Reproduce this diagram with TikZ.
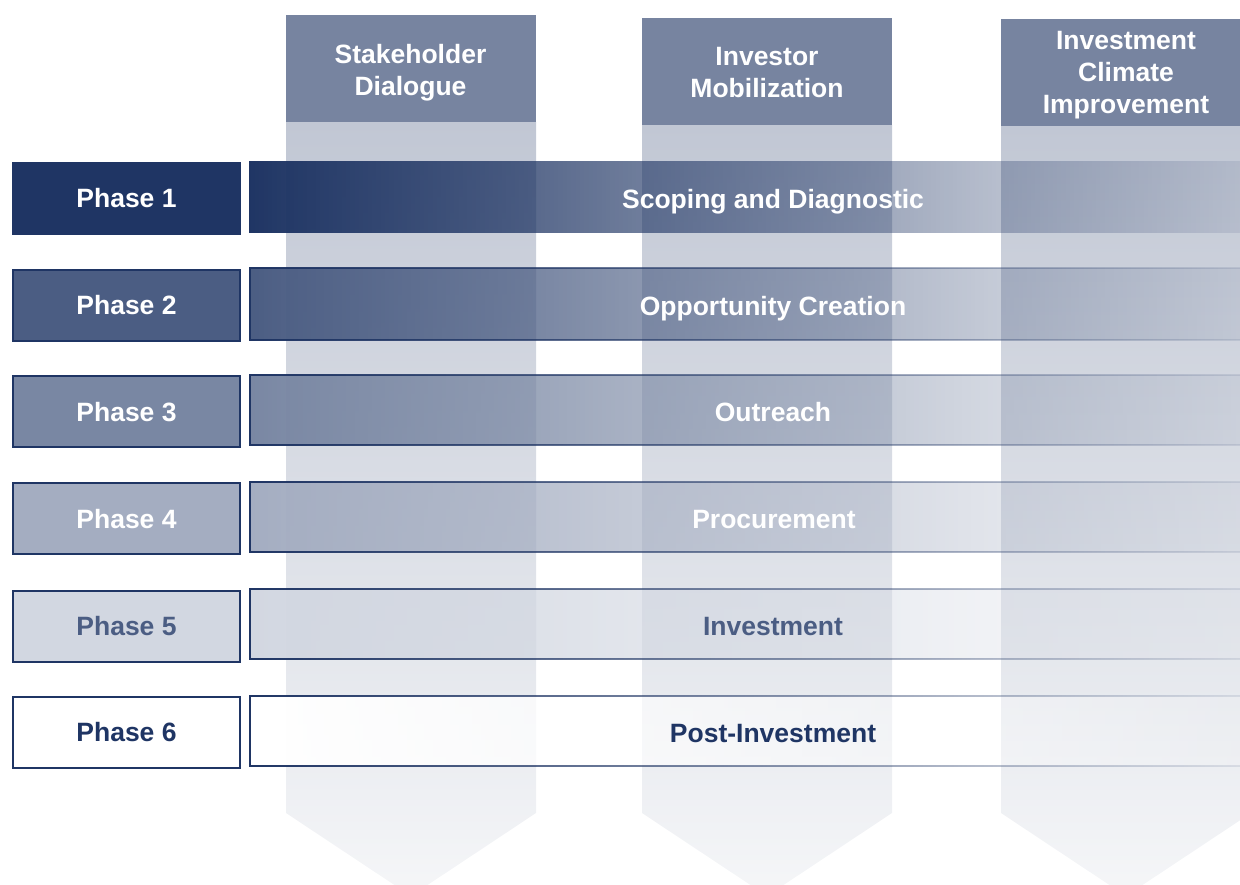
\documentclass[tikz,border=0pt]{standalone}
\usepackage{fontspec}
\setmainfont{Liberation Sans}
\usetikzlibrary{fadings}
\definecolor{navy}{HTML}{1F3564}
\definecolor{ptwo}{HTML}{4B5D83}
\definecolor{pthree}{HTML}{7987A3}
\definecolor{pfour}{HTML}{A4ADC1}
\definecolor{pfive}{HTML}{D2D7E1}
\definecolor{headc}{HTML}{7784A0}
\definecolor{coltop}{HTML}{C1C7D4}
\definecolor{colbot}{HTML}{F5F6F8}
\tikzfading[name=barfade, left color=transparent!0, right color=transparent!95]
\begin{document}
\begin{tikzpicture}[x=1pt,y=1pt,
  txt/.style={font=\fontsize{26.5}{31}\selectfont\bfseries, text=white, inner sep=0pt, text height=19pt, text depth=0pt},
  phasebox/.style={txt, draw=navy, line width=2pt, minimum width=227pt, minimum height=71pt},
  head/.style={fill=headc, minimum width=250pt, minimum height=107pt, inner sep=0pt},
  headtxt/.style={align=center, inner sep=0pt, font=\fontsize{26.5}{32}\selectfont\bfseries, text=white},
  colbody/.style={top color=coltop, bottom color=colbot, draw=none},
  bar/.style={line width=2pt, path fading=barfade}
]
\useasboundingbox (0,0) rectangle (1240,885);
\clip (0,0) rectangle (1240,885);

% column bodies (downward arrows)
\path[colbody] (286,763) -- (536,763) -- (536,72) -- (411,-11) -- (286,72) -- cycle;
\path[colbody] (642,760) -- (892,760) -- (892,72) -- (767,-11) -- (642,72) -- cycle;
\path[colbody] (1001,759) -- (1251,759) -- (1251,72) -- (1126,-11) -- (1001,72) -- cycle;

% column headers
\node[head] (h1) at (410.5,816) {};
\node[head] (h2) at (767,813.5) {};
\node[head] (h3) at (1126,812.5) {};
\node[headtxt, yshift=-4pt] (t1) at (h1.center) {Stakeholder\\Dialogue};
\node[headtxt, yshift=-1.5pt] (t2) at (h2.center) {Investor\\Mobilization};
\node[headtxt, yshift=-2.5pt] (t3) at (h3.center) {Investment\\Climate\\Improvement};

% fading bars
\path[bar, fill=navy] (250,652) rectangle (1296,724);
\path[bar, fill=ptwo, draw=navy] (251,545) rectangle (1296,617);
\path[bar, fill=pthree, draw=navy] (251,440) rectangle (1296,510);
\path[bar, fill=pfour, draw=navy] (251,333) rectangle (1296,403);
\path[bar, fill=pfive, draw=navy] (251,226) rectangle (1296,296);
\path[bar, fill=white, draw=navy] (251,119) rectangle (1296,189);

% bar labels
\node[txt] (s1) at (773,686) {Scoping and Diagnostic};
\node[txt] (s2) at (773,579) {Opportunity Creation};
\node[txt] (s3) at (773,473) {Outreach};
\node[txt] (s4) at (774,366) {Procurement};
\node[txt, text=ptwo] (s5) at (773,259) {Investment};
\node[txt, text=navy] (s6) at (773,152) {Post-Investment};

% phase boxes
\node[phasebox, fill=navy] (p1) at (126.5,686.5) {Phase 1};
\node[phasebox, fill=ptwo] (p2) at (126.5,579.5) {Phase 2};
\node[phasebox, fill=pthree] (p3) at (126.5,473) {Phase 3};
\node[phasebox, fill=pfour] (p4) at (126.5,366) {Phase 4};
\node[phasebox, fill=pfive, text=ptwo] (p5) at (126.5,258.5) {Phase 5};
\node[phasebox, fill=white, text=navy] (p6) at (126.5,152.5) {Phase 6};
\end{tikzpicture}
\end{document}
